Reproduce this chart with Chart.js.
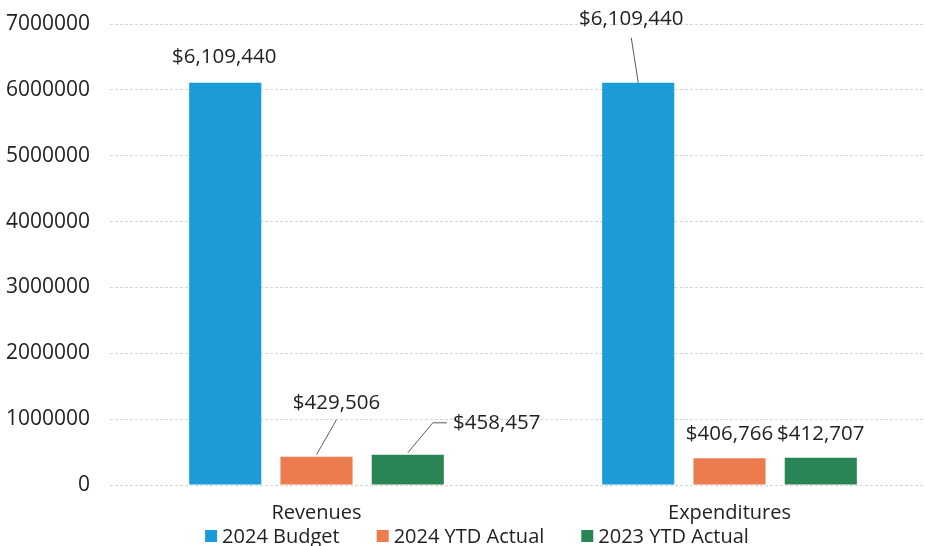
<!DOCTYPE html>
<html>
<head>
<meta charset="utf-8">
<script src="https://cdn.jsdelivr.net/npm/chart.js@4.4.1/dist/chart.umd.min.js"></script>
<style>
  html, body { margin: 0; padding: 0; background: #ffffff; overflow: hidden; }
  #wrap { position: relative; width: 940px; height: 546px; }
</style>
</head>
<body>
<div id="wrap"><canvas id="c"></canvas></div>
<script>
// ---- data ----
const categories = ['Revenues', 'Expenditures'];
const seriesNames = ['2024 Budget', '2024 YTD Actual', '2023 YTD Actual'];
const budget2024 = [6109440, 6109440];
const ytd2024 = [429506, 406766];
const ytd2023 = [458457, 412707];
const yTickValues = [0, 1000000, 2000000, 3000000, 4000000, 5000000, 6000000, 7000000];

// ---- styling ----
const colors = ['#1b9bd7', '#ec7c4e', '#2a8556'];
const FONT = "'Open Sans', 'Liberation Sans', sans-serif";
const TEXT = '#222222';

// label offsets relative to each bar's top centre, and optional leader lines
const labelLayout = [
  [ { dx: -1, dy: -25 }, { dx: -7, dy: -63, leader: [[-7, -45], [0, 0]] } ],
  [ { dx: 20, dy: -54, leader: [[20, -37], [0, -2]] }, { dx: 0, dy: -24 } ],
  [ { dx: 89, dy: -32, leader: [[39, -32], [25, -32], [0, -2]] }, { dx: 0, dy: -24 } ]
];

const fmt = v => '$' + v.toLocaleString('en-US');

const labelPlugin = {
  id: 'barLabels',
  afterDatasetsDraw(chart) {
    const ctx = chart.ctx;
    ctx.save();
    chart.data.datasets.forEach((ds, di) => {
      const meta = chart.getDatasetMeta(di);
      meta.data.forEach((el, i) => {
        const L = labelLayout[di][i];
        const x = el.x, y = el.y;
        if (L.leader) {
          ctx.beginPath();
          ctx.strokeStyle = '#5a5a5a';
          ctx.lineWidth = 1;
          L.leader.forEach((p, k) => {
            if (k === 0) ctx.moveTo(x + p[0], y + p[1]);
            else ctx.lineTo(x + p[0], y + p[1]);
          });
          ctx.stroke();
        }
        ctx.fillStyle = TEXT;
        ctx.font = '20.5px ' + FONT;
        ctx.textAlign = 'center';
        ctx.textBaseline = 'middle';
        ctx.fillText(fmt(ds.data[i]), x + L.dx, y + L.dy);
      });
    });
    ctx.restore();
  }
};

// legend drawn at the bottom, centred, using the datasets' own labels and colours
const legendPlugin = {
  id: 'bottomLegend',
  afterDraw(chart) {
    const ctx = chart.ctx;
    ctx.save();
    ctx.font = '20px ' + FONT;
    ctx.textBaseline = 'middle';
    ctx.textAlign = 'left';
    const box = 12, gap = 5, spacing = 37, cy = 536, centre = 477;
    const items = chart.data.datasets.map(ds => ({ text: ds.label, color: ds.backgroundColor, w: ctx.measureText(ds.label).width }));
    const total = items.reduce((s, it) => s + box + gap + it.w, 0) + spacing * (items.length - 1);
    let x = centre - total / 2;
    items.forEach(it => {
      ctx.fillStyle = it.color;
      ctx.fillRect(x, cy - box / 2, box, box);
      ctx.fillStyle = TEXT;
      ctx.fillText(it.text, x + box + gap, cy + 1);
      x += box + gap + it.w + spacing;
    });
    ctx.restore();
  }
};

const seriesValues = [budget2024, ytd2024, ytd2023];

new Chart(document.getElementById('c'), {
  type: 'bar',
  data: {
    labels: categories,
    datasets: seriesNames.map((name, k) => ({
      label: name,
      data: seriesValues[k],
      backgroundColor: colors[k],
      borderWidth: 0,
      barPercentage: 0.79,
      categoryPercentage: 0.663
    }))
  },
  options: {
    responsive: true,
    maintainAspectRatio: false,
    animation: false,
    layout: { padding: { top: 24, left: 0, right: 4, bottom: 20 } },
    plugins: {
      title: { display: false },
      tooltip: { enabled: false },
      legend: { display: false }
    },
    scales: {
      x: {
        grid: { display: false, drawTicks: false },
        border: { display: false },
        ticks: { color: TEXT, padding: 16, font: { family: FONT, size: 20 } },
        afterFit: s => { s.height = 41; }
      },
      y: {
        min: 0,
        max: 7000000,
        afterBuildTicks: axis => { axis.ticks = yTickValues.map(v => ({ value: v })); },
        grid: { color: '#d6d6d6', lineWidth: 1, drawTicks: false },
        border: { display: false, dash: [3, 2] },
        ticks: {
          color: TEXT,
          padding: 20,
          font: { family: FONT, size: 21 },
          callback: v => String(v)
        },
        afterFit: s => { s.width = 110; s.paddingTop = 0; s.paddingBottom = 0; }
      }
    }
  },
  plugins: [labelPlugin, legendPlugin]
});
</script>
</body>
</html>
